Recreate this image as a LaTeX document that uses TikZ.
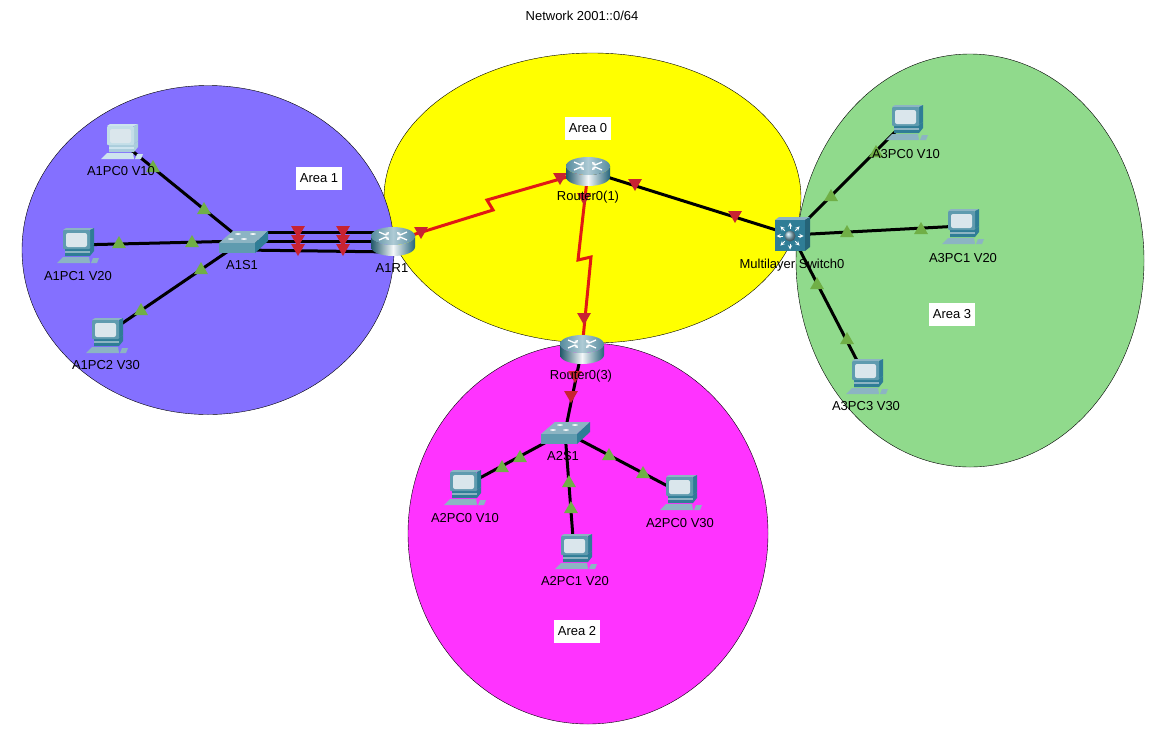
\documentclass[tikz,border=0pt]{standalone}
\usepackage{fontspec}
\setmainfont{Liberation Sans}
\usetikzlibrary{shapes.geometric,shadings,arrows.meta}
\definecolor{tealD}{RGB}{47,125,150}
\definecolor{tealM}{RGB}{95,155,175}
\definecolor{tealL}{RGB}{140,180,195}
\definecolor{scr}{RGB}{218,230,236}
\definecolor{gtr}{RGB}{112,175,70}
\definecolor{rtr}{RGB}{200,35,50}
\definecolor{redl}{RGB}{225,25,20}
\definecolor{ayellow}{RGB}{255,255,0}
\definecolor{amag}{RGB}{255,51,255}
\definecolor{apur}{RGB}{132,112,255}
\definecolor{agrn}{RGB}{144,218,140}
\definecolor{paleD}{RGB}{170,205,220}
\definecolor{paleM}{RGB}{195,222,232}
\definecolor{paleL}{RGB}{205,228,238}
\tikzset{
 x=1pt,y=-1pt,
 area/.style={draw=black,line width=0.4pt},
 link/.style={draw=black,line width=3pt},
 serial/.style={draw=redl,line width=3pt,line join=miter},
 gmark/.style={regular polygon,regular polygon sides=3,fill=gtr,draw=none,minimum size=16pt,inner sep=0pt},
 rmark/.style={regular polygon,regular polygon sides=3,shape border rotate=180,fill=rtr,draw=none,minimum size=16pt,inner sep=0pt},
 lab/.style={font=\fontsize{13}{15}\selectfont,text=black,inner sep=0pt},
 areabox/.style={font=\fontsize{13}{15}\selectfont,fill=white,inner sep=0pt,minimum width=46pt,minimum height=23pt},
 pics/pcicon/.style n args={3}{code={
  % base and mouse
  \fill[#2] (-19,18)--(-13,12)--(13,12)--(14,18)--cycle;
  \fill[#2] (17,13)--(23,13)--(21,18)--(15,18)--cycle;
  % tray
  \fill[#1] (-11,3)--(14,3)--(18,0)--(18,6)--(14,11)--(-11,11)--cycle;
  \fill[#2] (-11,6)--(14,6)--(14,8)--(-11,8)--cycle;
  % monitor
  \fill[#2] (-13,-15)--(-10,-17)--(18,-17)--(14,-15)--cycle;
  \fill[#1] (14,-15)--(18,-17)--(18,0)--(14,3)--cycle;
  \fill[#3,rounded corners=1pt] (-13,-15) rectangle (14,4);
  \fill[scr,rounded corners=2pt] (-10,-12) rectangle (11,2);
 }},
 pics/routericon/.style={code={
  \shade[left color=tealD!70!black,right color=tealD!80!black,middle color=white!90!tealL]
   (-22,-5) -- (-22,6) arc[start angle=180,end angle=0,x radius=22,y radius=9]
   -- (22,-5) arc[start angle=0,end angle=180,x radius=22,y radius=9] -- cycle;
  \shade[left color=tealM!90!black,right color=tealM!90!black,middle color=tealL!70!white]
   (0,-5) ellipse[x radius=22,y radius=9];
  \foreach \sx/\sy in {1/1,-1/1,1/-1,-1/-1}{
   \draw[white,line width=1.3pt,-{Stealth[length=3.5pt,width=4pt]}]
    (\sx*14,{-5+\sy*4}) -- (\sx*7,{-5+\sy*1}) -- (\sx*4,{-5+\sy*4});
  }
 }},
 pics/switchicon/.style={code={
  \fill[tealL] (-24,2)--(-10,-10)--(25,-10)--(12,2)--cycle;
  \fill[tealM] (-24,2) rectangle (12,12);
  \fill[tealD] (12,2)--(25,-10)--(25,0)--(12,12)--cycle;
  \foreach \p in {(-12,-2),(1,-2),(-5,-7),(10,-7)}
   \fill[white] \p ellipse[x radius=3,y radius=0.8];
 }},
 pics/mlsicon/.style={code={
  \fill[tealL] (-17,-15)--(-13,-18)--(18,-18)--(13,-15)--cycle;
  \fill[tealD!80!black] (13,-15)--(18,-18)--(18,12)--(13,16)--cycle;
  \fill[tealD] (-17,-15) rectangle (13,16);
  \shade[ball color=tealL] (-2,1) circle[radius=5.5];
  \foreach \a in {0,45,...,315}
   \draw[white,line width=0.9pt,-stealth] (-2,1) ++(\a:7.5) -- ++(\a:6);
 }},
}
\begin{document}
\begin{tikzpicture}
\useasboundingbox (0,0) rectangle (1174,734);
\fill[white] (0,0) rectangle (1174,734);
% areas
\node[area,ellipse,fill=ayellow,minimum width=417pt,minimum height=290pt,inner sep=0pt] (e0) at (592.5,198) {};
\node[area,ellipse,fill=amag,minimum width=360pt,minimum height=381pt,inner sep=0pt] (e2) at (588,533.5) {};
\node[area,ellipse,fill=apur,minimum width=372pt,minimum height=329pt,inner sep=0pt] (e1) at (208,250) {};
\node[area,ellipse,fill=agrn,minimum width=348pt,minimum height=413pt,inner sep=0pt] (e3) at (970,260.5) {};
% device anchors
\coordinate (a1pc0) at (120,141);
\coordinate (a1pc1) at (76,245);
\coordinate (a1pc2) at (105,335);
\coordinate (a1s1) at (243,241);
\coordinate (a1r1) at (393,241);
\coordinate (r01) at (588,171);
\coordinate (r03) at (582,349);
\coordinate (mls) at (792,235);
\coordinate (a2s1) at (565,432);
\coordinate (a2pc0) at (463,487);
\coordinate (a2pc1) at (574,551);
\coordinate (a2pc2) at (679,492);
\coordinate (a3pc0) at (905,122);
\coordinate (a3pc1) at (961,226);
\coordinate (a3pc3) at (865,376);
% bends and parallel link ends
\coordinate (z1) at (487,200);
\coordinate (z2) at (493,210);
\coordinate (z3) at (578,260);
\coordinate (z4) at (591,257);
\coordinate (st) at ([yshift=-9pt]a1s1);
\coordinate (sm) at (a1s1);
\coordinate (sb) at ([yshift=9pt]a1s1);
\coordinate (rt) at ([yshift=-11pt]a1r1);
\coordinate (rm) at (a1r1);
\coordinate (rb) at ([yshift=9pt]a1r1);
% links
\draw[link] (a1pc0) -- (a1s1);
\draw[link] (a1pc1) -- (a1s1);
\draw[link] (a1pc2) -- (a1s1);
\draw[link] (st) -- (rt);
\draw[link] (sm) -- (rm);
\draw[link] (sb) -- (rb);
\draw[serial] (a1r1) -- (z2) -- (z1) -- (r01);
\draw[serial] (r01) -- (z3) -- (z4) -- (r03);
\draw[link] (r01) -- (mls);
\draw[link] (r03) -- (a2s1);
\draw[link] (a2s1) -- (a2pc0);
\draw[link] (a2s1) -- (a2pc1);
\draw[link] (a2s1) -- (a2pc2);
\draw[link] (mls) -- (a3pc0);
\draw[link] (mls) -- (a3pc1);
\draw[link] (mls) -- (a3pc3);
% link lights
\foreach \n/\x/\y in {g1/153/168,g2/204/210,g3/119/244,g4/192/243,g5/201/270,g6/141/311,g7/502/468,g8/520/458,g9/569/483,g10/571/509,g11/609/456,g12/643/474,g13/831/197,g14/876/153,g15/847/233,g16/921/230,g17/817/285,g18/847/340}
  {\node[gmark] (\n) at (\x,\y) {};}
\foreach \n/\x/\y in {m1/298/230,m2/298/239,m3/298/248,m4/343/230,m5/343/239,m6/343/248,m7/421/231,m8/560/177,m9/584/197,m10/584/317,m11/575/375,m12/571/395,m13/635/183,m14/735/215}
  {\node[rmark] (\n) at (\x,\y) {};}
% devices
\pic at (a1pc0) {pcicon={paleD}{paleL}{paleM}};
\pic at (a1pc1) {pcicon={tealD}{tealL}{tealM}};
\pic at (a1pc2) {pcicon={tealD}{tealL}{tealM}};
\pic at (a2pc0) {pcicon={tealD}{tealL}{tealM}};
\pic at (a2pc1) {pcicon={tealD}{tealL}{tealM}};
\pic at (a2pc2) {pcicon={tealD}{tealL}{tealM}};
\pic at (a3pc0) {pcicon={tealD}{tealL}{tealM}};
\pic at (a3pc1) {pcicon={tealD}{tealL}{tealM}};
\pic at (a3pc3) {pcicon={tealD}{tealL}{tealM}};
\pic at (a1s1) {switchicon};
\pic at (a2s1) {switchicon};
\pic at (a1r1) {routericon};
\pic at (r01) {routericon};
\pic at (r03) {routericon};
\pic at (mls) {mlsicon};
% labels
\node[lab] (title) at (582,16) {Network 2001::0/64};
\node[areabox] (ar1) at (319,178) {Area 1};
\node[areabox] (ar0) at (588,128) {Area 0};
\node[areabox] (ar2) at (577,631) {Area 2};
\node[areabox] (ar3) at (952,314) {Area 3};
\node[lab] (l1) at (121,171) {A1PC0 V10};
\node[lab] (l2) at (78,276) {A1PC1 V20};
\node[lab] (l3) at (106,365) {A1PC2 V30};
\node[lab] (l4) at (242,265) {A1S1};
\node[lab] (l5) at (392,268) {A1R1};
\node[lab] (l6) at (588,197) {Router0(1)};
\node[lab] (l7) at (581,376) {Router0(3)};
\node[lab] (l8) at (792,265) {Multilayer Switch0};
\node[lab] (l9) at (906,154) {A3PC0 V10};
\node[lab] (l10) at (963,258) {A3PC1 V20};
\node[lab] (l11) at (866,406) {A3PC3 V30};
\node[lab] (l12) at (563,456) {A2S1};
\node[lab] (l13) at (465,518) {A2PC0 V10};
\node[lab] (l14) at (575,581) {A2PC1 V20};
\node[lab] (l15) at (680,523) {A2PC0 V30};
\end{tikzpicture}
\end{document}
